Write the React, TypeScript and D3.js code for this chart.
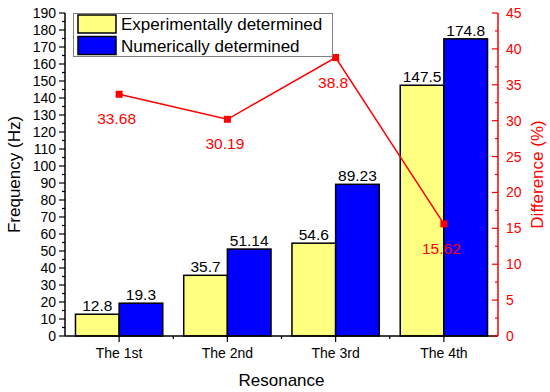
import React from "react";
import * as d3 from "d3";

const categories = ["The 1st", "The 2nd", "The 3rd", "The 4th"];
const experimental = [12.8, 35.7, 54.6, 147.5];
const numerical = [19.3, 51.14, 89.23, 174.8];
const difference = [33.68, 30.19, 38.8, 15.62];
const seriesNames = ["Experimentally determined", "Numerically determined"];
const barColors = ["#ffff80", "#0000ff"];

const W = 550;
const H = 392;
const left = 65;
const right = 498;
const top = 13;
const bottom = 336;
const FONT = "Arial, 'Liberation Sans', sans-serif";

export default function App() {
  const x = d3.scaleBand<string>().domain(categories).range([left, right]);
  const inner = d3.scaleBand<number>().domain([0, 1]).range([0, x.bandwidth()]).paddingOuter(0.24);
  const yL = d3.scaleLinear().domain([0, 190]).range([bottom, top]);
  const yR = d3.scaleLinear().domain([0, 45]).range([bottom, top]);

  const leftMajor = d3.range(0, 191, 10);
  const leftMinor = d3.range(5, 190, 10);
  const rightMajor = d3.range(0, 46, 5);
  const rightMinor = d3.range(2.5, 45, 5);

  const cx = (c: string) => (x(c) as number) + x.bandwidth() / 2;
  const line = d3
    .line<number>()
    .x((_, i) => cx(categories[i]))
    .y((d) => yR(d));

  const series = [experimental, numerical];

  return (
    <svg width={W} height={H} style={{ position: "absolute", left: 0, top: 0 }} fontFamily={FONT}>
      <rect width={W} height={H} fill="#fff" />

      {/* bars */}
      {categories.map((c, i) =>
        series.map((s, k) => {
          const bx = (x(c) as number) + (inner(k) as number);
          return (
            <g key={c + k}>
              <rect
                x={bx}
                y={yL(s[i])}
                width={inner.bandwidth()}
                height={bottom - yL(s[i])}
                fill={barColors[k]}
                stroke="#000"
                strokeWidth={1.5}
              />
              <text x={bx + inner.bandwidth() / 2} y={yL(s[i]) - 3} textAnchor="middle" fontSize={15.5} fill="#000">
                {s[i]}
              </text>
            </g>
          );
        })
      )}

      {/* difference line */}
      <path d={line(difference) || ""} fill="none" stroke="#ff0000" strokeWidth={1.5} />
      {difference.map((d, i) => (
        <g key={"p" + i}>
          <rect x={cx(categories[i]) - 3.5} y={yR(d) - 3.5} width={7} height={7} fill="#ff0000" />
          <text x={cx(categories[i]) - 2.5} y={yR(d) + 30} textAnchor="middle" fontSize={15.5} fill="#ff0000">
            {d}
          </text>
        </g>
      ))}

      {/* left axis */}
      <line x1={left} x2={left} y1={top} y2={bottom} stroke="#000" strokeWidth={1.5} />
      {leftMajor.map((v) => (
        <g key={"lm" + v}>
          <line x1={left - 6} x2={left} y1={yL(v)} y2={yL(v)} stroke="#000" strokeWidth={1.2} />
          <text x={left - 9} y={yL(v) + 5} textAnchor="end" fontSize={14} fill="#000">
            {v}
          </text>
        </g>
      ))}
      {leftMinor.map((v) => (
        <line key={"ln" + v} x1={left - 3} x2={left} y1={yL(v)} y2={yL(v)} stroke="#000" strokeWidth={1.2} />
      ))}

      {/* bottom axis */}
      <line x1={left} x2={right} y1={bottom} y2={bottom} stroke="#000" strokeWidth={1.5} />
      {categories.map((c) => (
        <g key={"bx" + c}>
          <line x1={cx(c)} x2={cx(c)} y1={bottom} y2={bottom + 6} stroke="#000" strokeWidth={1.2} />
          <text x={cx(c)} y={bottom + 22} textAnchor="middle" fontSize={14} fill="#000">
            {c}
          </text>
        </g>
      ))}
      {categories.slice(1).map((c) => (
        <line key={"bm" + c} x1={x(c) as number} x2={x(c) as number} y1={bottom} y2={bottom + 3} stroke="#000" strokeWidth={1.2} />
      ))}

      {/* right axis */}
      <line x1={right} x2={right} y1={top} y2={bottom} stroke="#ff0000" strokeWidth={1.5} />
      {rightMajor.map((v) => (
        <g key={"rm" + v}>
          <line x1={right - 6} x2={right} y1={yR(v)} y2={yR(v)} stroke="#ff0000" strokeWidth={1.2} />
          <text x={right + 8} y={yR(v) + 5} textAnchor="start" fontSize={14} fill="#ff0000">
            {v}
          </text>
        </g>
      ))}
      {rightMinor.map((v) => (
        <line key={"rn" + v} x1={right - 3} x2={right} y1={yR(v)} y2={yR(v)} stroke="#ff0000" strokeWidth={1.2} />
      ))}

      {/* axis titles */}
      <text x={(left + right) / 2} y={386} textAnchor="middle" fontSize={17} fill="#000">
        Resonance
      </text>
      <text transform={`translate(20,${(top + bottom) / 2}) rotate(-90)`} textAnchor="middle" fontSize={17} fill="#000">
        Frequency (Hz)
      </text>
      <text transform={`translate(543,${(top + bottom) / 2}) rotate(-90)`} textAnchor="middle" fontSize={17} fill="#ff0000">
        Difference (%)
      </text>

      {/* legend */}
      <rect x={73.5} y={13.5} width={259} height={43} fill="#fff" stroke="#808080" strokeWidth={1} />
      {seriesNames.map((n, k) => (
        <g key={n}>
          <rect x={78} y={15 + k * 21.5} width={38} height={18} fill={barColors[k]} stroke="#000" strokeWidth={1.5} />
          <text x={121} y={30 + k * 21.5} fontSize={17} fill="#000">
            {n}
          </text>
        </g>
      ))}
    </svg>
  );
}
